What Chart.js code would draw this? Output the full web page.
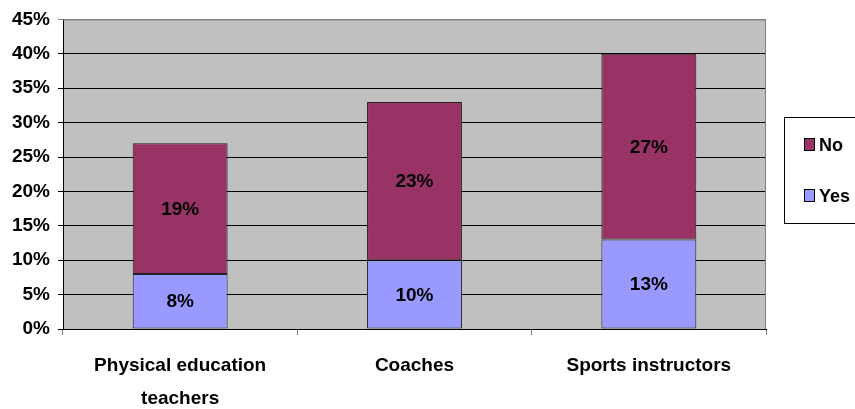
<!DOCTYPE html>
<html>
<head>
<meta charset="utf-8">
<script src="https://cdn.jsdelivr.net/npm/chart.js@4"></script>
<style>
  html, body { margin: 0; padding: 0; background: #ffffff; }
  #wrap { width: 855px; height: 409px; }
</style>
</head>
<body>
<div id="wrap"><canvas id="surveyChart" width="855" height="409"></canvas></div>
<script>
// data (percent)
const categories = [["Physical education", "teachers"], "Coaches", "Sports instructors"];
const yesValues = [8, 10, 13];
const noValues = [19, 23, 27];
const seriesNames = ["Yes", "No"];
const seriesColors = ["#9999FF", "#993366"];

const FONT = "'Liberation Sans Narrow', 'Liberation Sans', Arial, sans-serif";

// gray plot background + gray top/right border
const plotBackground = {
  id: "plotBackground",
  beforeDraw(chart) {
    const { ctx, chartArea: a } = chart;
    ctx.save();
    ctx.fillStyle = "#C0C0C0";
    ctx.fillRect(a.left, a.top, a.right - a.left, a.bottom - a.top);
    ctx.restore();
  },
  afterDatasetsDraw(chart) {
    const { ctx, chartArea: a } = chart;
    ctx.save();
    ctx.strokeStyle = "#808080";
    ctx.lineWidth = 1;
    ctx.beginPath();
    ctx.moveTo(a.left, a.top + 0.5);
    ctx.lineTo(a.right - 0.5, a.top + 0.5);
    ctx.lineTo(a.right - 0.5, a.bottom);
    ctx.stroke();
    ctx.restore();
  }
};

// value labels in the middle of each segment
const valueLabels = {
  id: "valueLabels",
  afterDatasetsDraw(chart) {
    const { ctx } = chart;
    ctx.save();
    ctx.font = "bold 19px " + FONT;
    ctx.fillStyle = "#000000";
    ctx.textAlign = "center";
    ctx.textBaseline = "middle";
    chart.data.datasets.forEach((ds, i) => {
      chart.getDatasetMeta(i).data.forEach((bar, j) => {
        const mid = (bar.y + bar.base) / 2;
        ctx.fillText(ds.data[j] + "%", bar.x, mid + 1);
      });
    });
    ctx.restore();
  }
};

// boxed legend on the right
const boxLegend = {
  id: "boxLegend",
  afterDraw(chart) {
    const { ctx } = chart;
    ctx.save();
    ctx.strokeStyle = "#000000";
    ctx.lineWidth = 1;
    ctx.fillStyle = "#ffffff";
    ctx.fillRect(784.5, 117.5, 80, 106);
    ctx.strokeRect(784.5, 117.5, 80, 106);
    const rows = [
      { ds: chart.data.datasets[1], y: 145 },
      { ds: chart.data.datasets[0], y: 196 }
    ];
    ctx.font = "bold 18px " + FONT;
    ctx.textBaseline = "middle";
    ctx.textAlign = "left";
    rows.forEach(r => {
      ctx.fillStyle = r.ds.backgroundColor;
      ctx.fillRect(804.5, r.y - 6.5, 10, 12);
      ctx.strokeStyle = "#000000";
      ctx.strokeRect(804.5, r.y - 6.5, 10, 12);
      ctx.fillStyle = "#000000";
      ctx.fillText(r.ds.label, 819, r.y + 1);
    });
    ctx.restore();
  }
};

new Chart(document.getElementById("surveyChart").getContext("2d"), {
  type: "bar",
  data: {
    labels: categories,
    datasets: [
      {
        label: seriesNames[0],
        data: yesValues,
        backgroundColor: seriesColors[0],
        borderColor: "#222222",
        borderWidth: 1,
        borderSkipped: false,
        categoryPercentage: 1,
        barPercentage: 0.405
      },
      {
        label: seriesNames[1],
        data: noValues,
        backgroundColor: seriesColors[1],
        borderColor: "#222222",
        borderWidth: 1,
        borderSkipped: false,
        categoryPercentage: 1,
        barPercentage: 0.405
      }
    ]
  },
  options: {
    responsive: false,
    animation: false,
    layout: { padding: { top: 18, right: 89, left: 0, bottom: 0 } },
    plugins: {
      legend: { display: false },
      tooltip: { enabled: false }
    },
    scales: {
      x: {
        stacked: true,
        afterFit(scale) { scale.height = 80; },
        grid: {
          offset: true,
          drawOnChartArea: false,
          color: "#808080",
          tickLength: 6
        },
        border: { color: "#000000", width: 1 },
        ticks: {
          color: "#000000",
          padding: 14,
          font: { family: FONT, size: 19, weight: "bold", lineHeight: 1.74 }
        }
      },
      y: {
        stacked: true,
        min: 0,
        max: 45,
        afterFit(scale) { scale.width = 63; },
        grid: {
          color: ctx => (ctx.tick && ctx.tick.value === 45 ? "#808080" : "#000000"),
          tickLength: 5
        },
        border: { color: "#000000", width: 1 },
        ticks: {
          stepSize: 5,
          color: "#000000",
          padding: 8,
          font: { family: FONT, size: 19, weight: "bold" },
          callback: v => v + "%"
        }
      }
    }
  },
  plugins: [plotBackground, valueLabels, boxLegend]
});
</script>
</body>
</html>
